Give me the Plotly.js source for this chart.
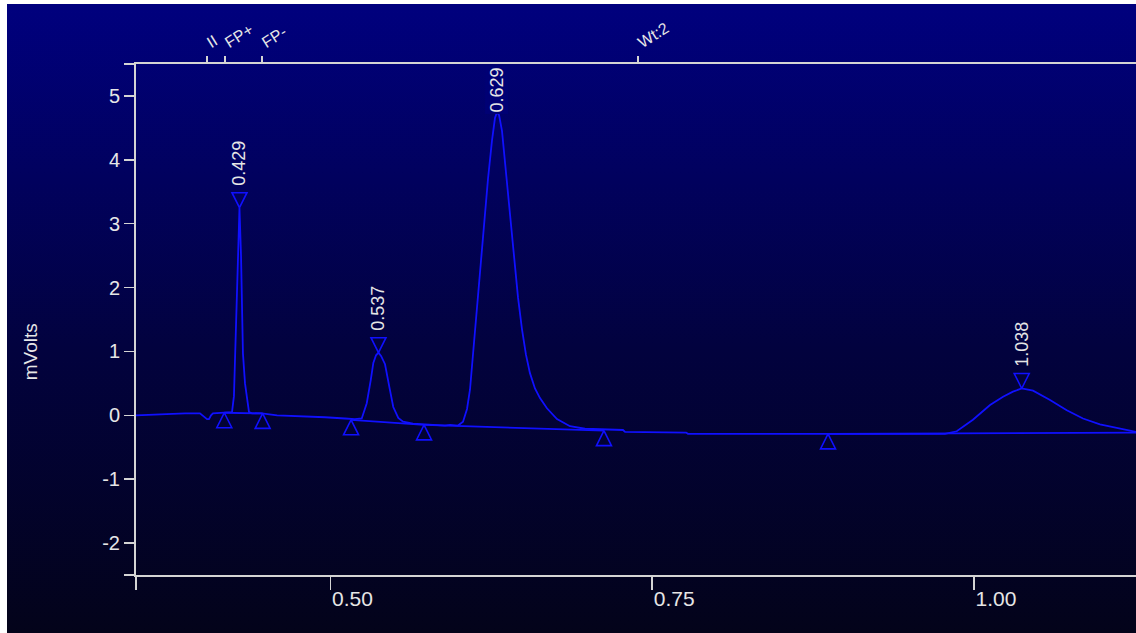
<!DOCTYPE html>
<html><head><meta charset="utf-8">
<script src="https://cdn.plot.ly/plotly-3.0.1.min.js"></script>
<style>
html,body{margin:0;padding:0;background:#fff;width:1136px;height:633px;overflow:hidden}
#bg{position:absolute;left:7px;top:4px;width:1129px;height:629px;background:linear-gradient(to bottom,#00007e 0%,#02023e 55%,#03031a 100%)}
#chart{position:absolute;left:0;top:0;width:1136px;height:633px}
</style></head><body><div id="bg"></div><div id="chart"></div>
<script>
// Chromatogram signal (time in minutes, signal in mV)
const timeMin = [
  0.349, 0.3676, 0.3871, 0.3987, 0.4018, 0.4042, 0.4057, 0.4073, 0.4088, 0.4174, 0.4228,
  0.4236, 0.4251, 0.4259, 0.4275, 0.4283, 0.4294, 0.4306, 0.4314, 0.4321, 0.4337, 0.4350, 0.4368, 0.4391,
  0.4469, 0.4586, 0.4764, 0.4959, 0.5114, 0.5191,
  0.5244, 0.5283, 0.5314, 0.5334, 0.5355, 0.5374, 0.5394, 0.5425, 0.5458, 0.5489, 0.5528, 0.5565, 0.5642, 0.5768, 0.5891,
  0.5930, 0.5992, 0.6031, 0.6062, 0.6085, 0.6108, 0.6132, 0.6163, 0.6194, 0.6225, 0.6256, 0.6279, 0.6295, 0.6311,
  0.6334, 0.6365, 0.6396, 0.6427, 0.6458, 0.6489, 0.6520, 0.6551, 0.6590, 0.6629, 0.6683, 0.6761, 0.6862, 0.6979,
  0.7095, 0.7274, 0.7290, 0.7764, 0.7779, 0.9776,
  0.9867, 0.9993, 1.0126, 1.0227, 1.0304, 1.0372, 1.0460, 1.0592, 1.0722, 1.0848, 1.0980, 1.1110, 1.1213, 1.126
];
const signal_mV = [
  0.00, 0.02, 0.03, 0.03, -0.02, -0.06, -0.06, 0.00, 0.03, 0.04, 0.04,
  0.05, 0.30, 0.86, 1.90, 2.80, 3.25, 2.50, 1.60, 0.97, 0.50, 0.30, 0.05, 0.03,
  0.03, 0.00, -0.01, -0.03, -0.05, -0.06,
  -0.05, 0.19, 0.55, 0.82, 0.94, 0.98, 0.93, 0.80, 0.45, 0.13, -0.04, -0.10, -0.13, -0.15, -0.16,
  -0.15, -0.16, -0.10, 0.10, 0.40, 0.95, 1.50, 2.20, 3.00, 3.70, 4.30, 4.65, 4.75, 4.70,
  4.45, 3.80, 3.10, 2.45, 1.85, 1.35, 0.95, 0.66, 0.42, 0.27, 0.11, -0.06, -0.17, -0.21,
  -0.22, -0.23, -0.26, -0.27, -0.29, -0.29,
  -0.25, -0.07, 0.16, 0.29, 0.37, 0.42, 0.385, 0.24, 0.08, -0.05, -0.14, -0.20, -0.25, -0.26
];

// Peaks: retention time labels and apex values
const peakTimes   = [0.4294, 0.5374, 0.6295, 1.0372];
const peakHeights = [3.25, 0.98, 4.75, 0.42];
const peakLabels  = ["0.429", "0.537", "0.629", "1.038"];

// Integration baselines (start / end of each peak)
const baseStartT = [0.4176, 0.5161, 0.5728, 0.8867];
const baseStartV = [0.04, -0.07, -0.15, -0.29];
const baseEndT   = [0.4474, 0.5728, 0.7126, 1.130];
const baseEndV   = [0.03, -0.15, -0.24, -0.27];

// Peak start / end tick marks
const markT = [0.4176, 0.4474, 0.5161, 0.5728, 0.7126, 0.8867];
const markV = [0.04, 0.03, -0.07, -0.15, -0.24, -0.29];

// Timed events on the top axis
const eventTimes  = [0.4042, 0.4182, 0.4469, 0.7390];
const eventLabels = ["II", "FP+", "FP-", "Wt:2"];

// Axis ticks
const xTickVals = [0.349, 0.50, 0.75, 1.00];
const xTickText = ["", "0.50", "0.75", "1.00"];
const yTickVals = [-2.5, -2, -1, 0, 1, 2, 3, 4, 5, 5.5];
const yTickText = ["", "-2", "-1", "0", "1", "2", "3", "4", "5", ""];
const xRange = [0.349, 1.126];
const yRange = [-2.5, 5.5];
const yTitle = "mVolts";

const BLUE = "#1010ff";
const AXIS = "#d4d4d4";
const TXT = "#e6e6e6";
const FONT = "Liberation Sans, Arial, sans-serif";

const bx = [], by = [];
for (let i = 0; i < baseStartT.length; i++) {
  bx.push(baseStartT[i], baseEndT[i], null);
  by.push(baseStartV[i], baseEndV[i], null);
}

const traces = [
  {x: bx, y: by, mode: "lines", line: {color: BLUE, width: 1.8}, hoverinfo: "skip"},
  {x: timeMin, y: signal_mV, mode: "lines", line: {color: BLUE, width: 1.8}, name: "signal"},
  {x: markT, y: markV, mode: "markers", hoverinfo: "skip",
   marker: {symbol: "arrow-up-open", size: 15, color: BLUE, line: {color: BLUE, width: 1.6}}},
  {x: peakTimes, y: peakHeights, mode: "markers", hoverinfo: "skip",
   marker: {symbol: "arrow-down-open", size: 15, color: BLUE, line: {color: BLUE, width: 1.6}}},
  {x: eventTimes, y: eventTimes.map(() => null), xaxis: "x2", mode: "markers", hoverinfo: "skip"}
];

const pxPerUnit = 511 / (yRange[1] - yRange[0]);
const annotations = peakLabels.map((t, i) => {
  const need = (22 + 52) / pxPerUnit;
  if (peakHeights[i] + need > yRange[1] - 0.05) {
    return {x: peakTimes[i], y: yRange[1] - 0.03, xref: "x", yref: "y", text: t, textangle: -90,
      showarrow: false, xanchor: "center", yanchor: "top", bgcolor: "#000074", borderpad: 1,
      font: {family: FONT, size: 18, color: TXT}};
  }
  return {x: peakTimes[i], y: peakHeights[i], xref: "x", yref: "y", text: t, textangle: -90,
    showarrow: false, xanchor: "center", yanchor: "bottom", yshift: 20,
    font: {family: FONT, size: 18, color: TXT}};
});
annotations.push({xref: "paper", yref: "paper", x: -0.106, y: 0.436, text: yTitle, textangle: -90,
  showarrow: false, xanchor: "center", yanchor: "middle", font: {family: FONT, size: 19, color: TXT}});

const layout = {
  width: 1136, height: 633,
  margin: {l: 136, r: 0, t: 64, b: 58},
  paper_bgcolor: "rgba(0,0,0,0)", plot_bgcolor: "rgba(0,0,0,0)",
  showlegend: false,
  font: {family: FONT, color: TXT},
  xaxis: {
    range: xRange, tickmode: "array", tickvals: xTickVals, ticktext: xTickText,
    ticks: "outside", ticklen: 13, tickwidth: 1.5, tickcolor: AXIS,
    ticklabelposition: "outside right", ticklabelstandoff: 4,
    showline: true, linecolor: AXIS, linewidth: 2, showgrid: false, zeroline: false,
    tickfont: {family: FONT, size: 21, color: TXT}
  },
  xaxis2: {
    overlaying: "x", side: "top", range: xRange, tickmode: "array",
    tickvals: eventTimes, ticktext: eventLabels, tickangle: -32,
    ticks: "outside", ticklen: 6, tickwidth: 1.5, tickcolor: AXIS,
    showline: true, linecolor: AXIS, linewidth: 2, showgrid: false, zeroline: false,
    tickfont: {family: FONT, size: 16, color: TXT}
  },
  yaxis: {
    range: yRange, tickmode: "array", tickvals: yTickVals, ticktext: yTickText,
    ticks: "outside", ticklen: 10, tickwidth: 1.5, tickcolor: AXIS,
    showline: true, linecolor: AXIS, linewidth: 2, showgrid: false, zeroline: false,
    tickfont: {family: FONT, size: 20, color: TXT}
  },
  annotations: annotations
};

Plotly.newPlot("chart", traces, layout, {displayModeBar: false, staticPlot: true});
</script></body></html>
